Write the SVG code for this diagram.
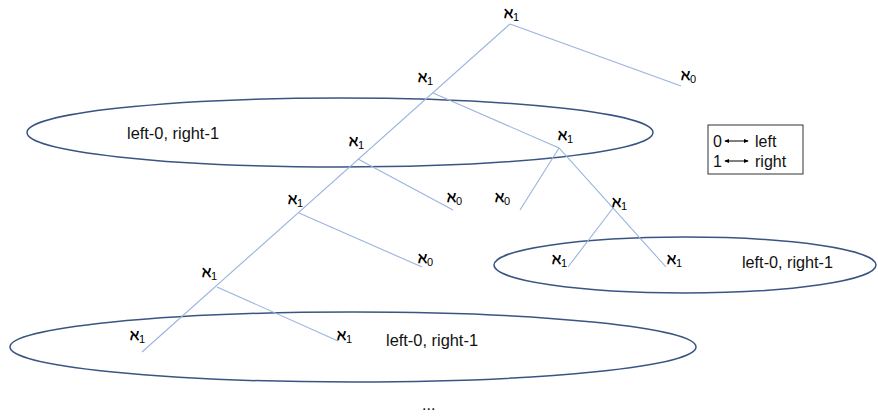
<svg xmlns="http://www.w3.org/2000/svg" width="878" height="416" viewBox="0 0 878 416">
<style>
.e{fill:none;stroke:#3a5583;stroke-width:1.5}
.c{fill:none;stroke:#9ab3e0;stroke-width:1.1}
.a{font-family:"DejaVu Serif",serif;font-size:15px;font-weight:bold;fill:#000}
.s{font-family:"Liberation Sans",sans-serif;font-size:11px;font-weight:normal}
.t{font-family:"Liberation Sans",Arial,sans-serif;font-size:16px;fill:#111}
</style>
<defs>
<marker id="ah" viewBox="0 0 6 6" refX="5" refY="3" markerWidth="5" markerHeight="5" orient="auto-start-reverse"><path d="M0,0.5 L6,3 L0,5.5 z" fill="#000"/></marker>
</defs>
<rect width="878" height="416" fill="#fff"/>
<g id="groups">
<g id="group-top"><ellipse class="e" cx="340" cy="132.5" rx="313" ry="34.5"/><text class="t" x="127" y="139" textLength="92" lengthAdjust="spacingAndGlyphs">left-0, right-1</text></g>
<g id="group-right"><ellipse class="e" cx="685" cy="265" rx="191" ry="28"/><text class="t" x="742" y="268" textLength="91" lengthAdjust="spacingAndGlyphs">left-0, right-1</text></g>
<g id="group-bottom"><ellipse class="e" cx="353" cy="347" rx="343" ry="35"/><text class="t" x="386" y="346" textLength="92" lengthAdjust="spacingAndGlyphs">left-0, right-1</text></g>
</g>
<g id="connectors">
<path class="c" d="M510,24 L142,352"/>
<path class="c" d="M510,24 L681,86"/>
<path class="c" d="M433,93 L559,148 L666,267"/>
<path class="c" d="M559,148 L520,210"/>
<path class="c" d="M613,208 L568,267"/>
<path class="c" d="M358,159 L453,210"/>
<path class="c" d="M299,213 L422,267"/>
<path class="c" d="M217,287 L338,341"/>
</g>
<g id="n-root"><text class="a" x="504" y="18">ℵ<tspan class="s" dy="3">1</tspan></text></g>
<g id="n-r0"><text class="a" x="681" y="80">ℵ<tspan class="s" dy="3">0</tspan></text></g>
<g id="n-a"><text class="a" x="418" y="82">ℵ<tspan class="s" dy="3">1</tspan></text></g>
<g id="n-b"><text class="a" x="558" y="140">ℵ<tspan class="s" dy="3">1</tspan></text></g>
<g id="n-c"><text class="a" x="349" y="146">ℵ<tspan class="s" dy="3">1</tspan></text></g>
<g id="n-c0"><text class="a" x="447" y="202">ℵ<tspan class="s" dy="3">0</tspan></text></g>
<g id="n-d"><text class="a" x="288" y="204">ℵ<tspan class="s" dy="3">1</tspan></text></g>
<g id="n-d0"><text class="a" x="418" y="263">ℵ<tspan class="s" dy="3">0</tspan></text></g>
<g id="n-e"><text class="a" x="202" y="277">ℵ<tspan class="s" dy="3">1</tspan></text></g>
<g id="n-el"><text class="a" x="130" y="340">ℵ<tspan class="s" dy="3">1</tspan></text></g>
<g id="n-er"><text class="a" x="337" y="340">ℵ<tspan class="s" dy="3">1</tspan></text></g>
<g id="n-b0"><text class="a" x="495" y="202">ℵ<tspan class="s" dy="3">0</tspan></text></g>
<g id="n-f"><text class="a" x="612" y="207">ℵ<tspan class="s" dy="3">1</tspan></text></g>
<g id="n-fl"><text class="a" x="552" y="264">ℵ<tspan class="s" dy="3">1</tspan></text></g>
<g id="n-fr"><text class="a" x="667" y="264">ℵ<tspan class="s" dy="3">1</tspan></text></g>
<g id="legend">
<rect x="708" y="125" width="95" height="49" fill="none" stroke="#333" stroke-width="1"/>
<text class="t" x="713" y="147" font-size="17">0</text>
<text class="t" x="713" y="167" font-size="17">1</text>
<line x1="725" y1="141" x2="748" y2="141" stroke="#000" stroke-width="1" marker-start="url(#ah)" marker-end="url(#ah)"/>
<line x1="725" y1="161" x2="748" y2="161" stroke="#000" stroke-width="1" marker-start="url(#ah)" marker-end="url(#ah)"/>
<text class="t" x="755" y="147" font-size="17">left</text>
<text class="t" x="755" y="167" font-size="17">right</text>
</g>
<text class="t" x="422" y="410">...</text>
</svg>
